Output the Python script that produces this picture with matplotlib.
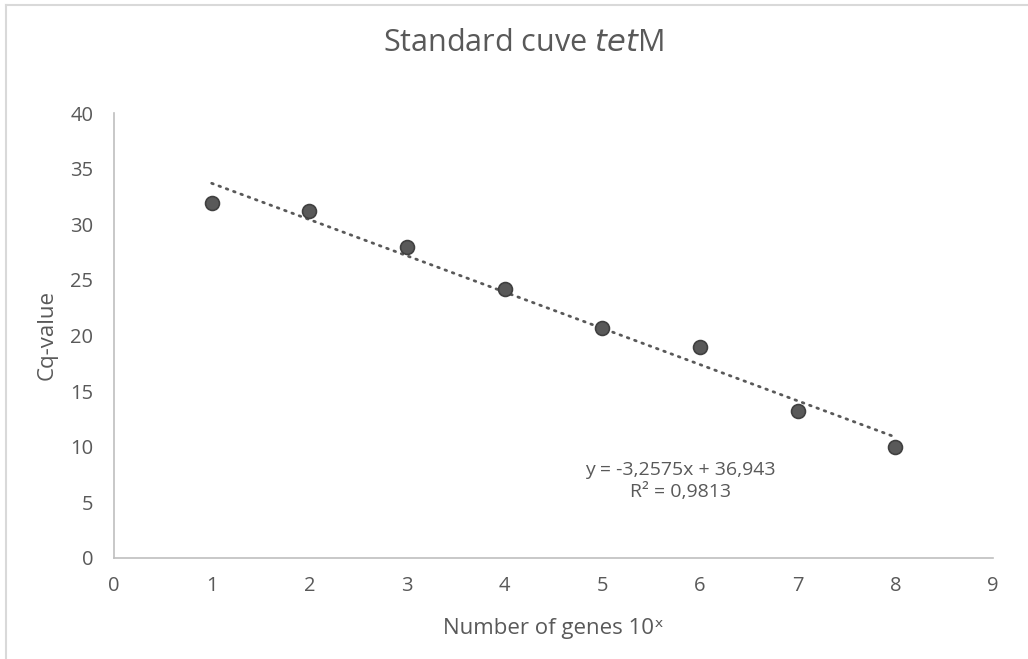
import numpy as np
import matplotlib.pyplot as plt
from matplotlib.lines import Line2D

plt.rcParams['font.family'] = ['Open Sans', 'DejaVu Sans']

genes_exp = [1, 2, 3, 4, 5, 6, 7, 8]
cq_value = [31.9, 31.2, 28.0, 24.2, 20.7, 19.0, 13.2, 10.0]
eq_text = "y = -3,2575x + 36,943\nR² = 0,9813"

txt = '#595959'
fig = plt.figure(figsize=(10.28, 6.59), dpi=100)
ax = fig.add_axes([0.1109, 0.1533, 0.8551, 0.6752])

# trend line from a linear fit of the points
k, b = np.polyfit(genes_exp, cq_value, 1)
xf = np.array([genes_exp[0], genes_exp[-1]])
ax.plot(xf, k * xf + b, color=txt, lw=2.0, ls=(0, (0.6, 2.2)),
        dash_capstyle='round', zorder=2)
ax.plot(genes_exp, cq_value, 'o', ms=10, mfc='#595959', mec='#404040', mew=1.2, zorder=3)

ax.set_xlim(0, 9)
ax.set_ylim(0, 40)
ax.set_xticks(range(0, 10))
ax.set_yticks(range(0, 41, 5))
ax.tick_params(length=0, labelsize=14.5, labelcolor=txt)
ax.tick_params(axis='x', pad=13)
ax.tick_params(axis='y', pad=15)
for s in ['top', 'right']:
    ax.spines[s].set_visible(False)
for s in ['left', 'bottom']:
    ax.spines[s].set_color('#bfbfbf')
    ax.spines[s].set_linewidth(1.2)

ax.set_xlabel("Number of genes 10ˣ", fontsize=16, color=txt, labelpad=16)
ax.set_ylabel("Cq-value", fontsize=16, color=txt, labelpad=9)
fig.text(0.509, 0.935, "Standard cuve $\\it{tet}$M", ha='center', va='center',
         fontsize=22, color=txt)
ax.text(5.8, 6.9, eq_text, ha='center', va='center', fontsize=14, color=txt,
        multialignment='center', linespacing=1.25)

# chart frame (only top and left edges visible)
fig.add_artist(Line2D([0.006, 1.0], [0.992, 0.992], color='#d9d9d9', lw=1.5))
fig.add_artist(Line2D([0.006, 0.006], [0.0, 0.992], color='#d9d9d9', lw=1.5))

fig.savefig('out.png', dpi=100)
